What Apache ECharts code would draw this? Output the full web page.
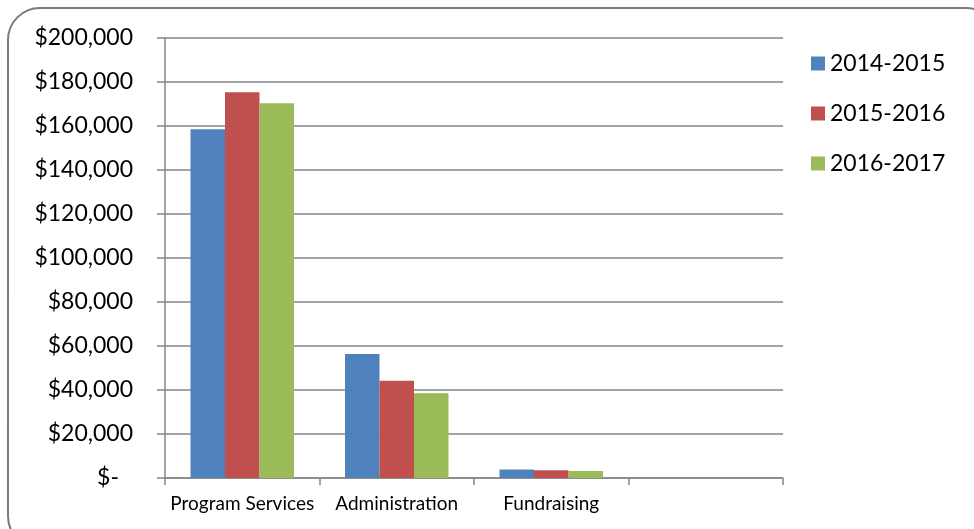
<!DOCTYPE html>
<html>
<head>
<meta charset="utf-8">
<script src="https://cdn.jsdelivr.net/npm/echarts@6/dist/echarts.min.js"></script>
<style>
html,body{margin:0;padding:0;background:#fff;}
#chart{width:974px;height:529px;}
</style>
</head>
<body>
<div id="chart"></div>
<script>
const categories = ['Program Services', 'Administration', 'Fundraising', ''];
const seriesNames = ['2014-2015', '2015-2016', '2016-2017'];
const values2014 = [158500, 56400, 3900, null];
const values2015 = [175300, 44200, 3500, null];
const values2016 = [170300, 38500, 3200, null];
const colors = ['#4F81BD', '#C0504D', '#9BBB59'];

const FONT = 'Lato, "Open Sans", sans-serif';
const chart = echarts.init(document.getElementById('chart'), null, {renderer: 'canvas'});
const allValues = [values2014, values2015, values2016];

chart.setOption({
  animation: false,
  color: colors,
  graphic: [{
    type: 'rect',
    shape: {x: 8, y: 8, width: 990, height: 540, r: 32},
    style: {fill: 'none', stroke: '#7a7a7a', lineWidth: 2},
    silent: true
  }],
  legend: {
    orient: 'vertical',
    left: 806,
    top: 47,
    itemWidth: 14,
    itemHeight: 14,
    itemGap: 27,
    icon: 'rect',
    textStyle: {fontFamily: FONT, fontSize: 23, color: '#000'},
    data: seriesNames
  },
  grid: {left: 165, right: 191, top: 38, bottom: 51, containLabel: false},
  xAxis: {
    type: 'category',
    data: categories,
    axisLine: {lineStyle: {color: '#868686', width: 1.5}},
    axisTick: {show: true, length: 7, lineStyle: {color: '#868686', width: 1.5}},
    axisLabel: {fontFamily: FONT, fontSize: 19, color: '#000', margin: 16, interval: 0}
  },
  yAxis: {
    type: 'value',
    min: 0,
    max: 200000,
    interval: 20000,
    axisLine: {show: true, lineStyle: {color: '#868686', width: 1.5}},
    axisTick: {show: true, length: 8, lineStyle: {color: '#868686', width: 1.5}},
    splitLine: {lineStyle: {color: '#868686', width: 1.5}},
    axisLabel: {
      fontFamily: FONT, fontSize: 23, color: '#000', margin: 32,
      formatter: function (v) {
        if (v === 0) return '{z|$-}';
        return '$' + v.toLocaleString('en-US');
      },
      rich: {z: {fontFamily: FONT, fontSize: 23, color: '#000', padding: [0, 14, 0, 0]}}
    }
  },
  series: seriesNames.map(function (name, i) {
    return {
      name: name,
      type: 'bar',
      data: allValues[i],
      barGap: '0%',
      barCategoryGap: '33%',
      itemStyle: {color: colors[i]}
    };
  })
});
</script>
</body>
</html>
